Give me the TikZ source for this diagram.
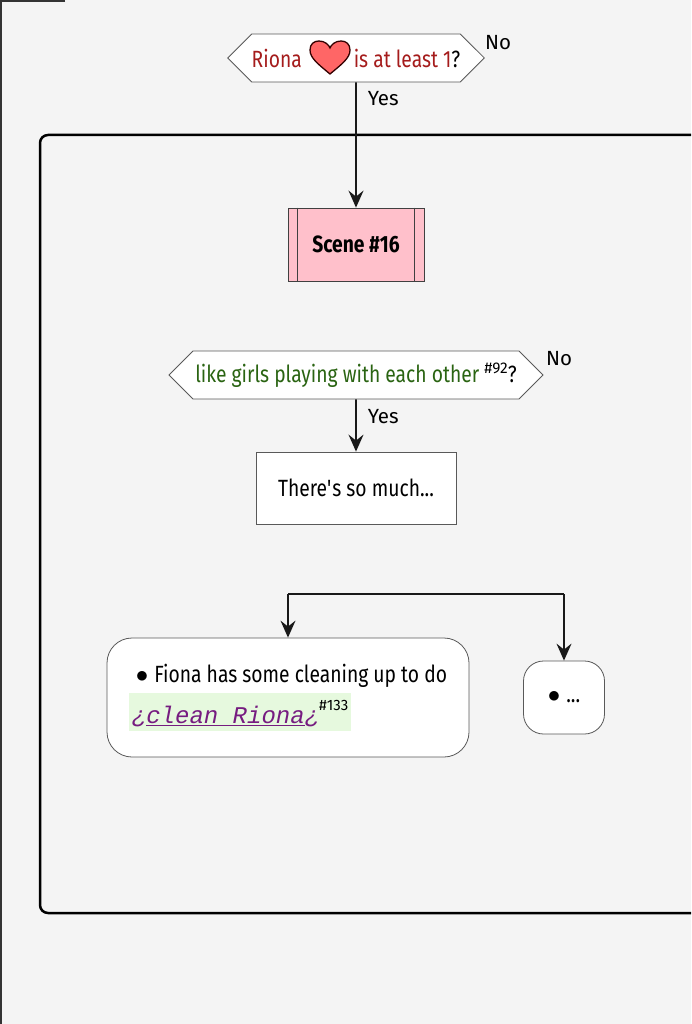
\documentclass[tikz,border=0pt]{standalone}
\usepackage{fontspec}
\setmainfont{Fira Sans}[FakeStretch=0.82]
\newfontfamily\lblfont{Fira Sans}
\setmonofont{Liberation Mono}
\usepackage{xcolor}
\definecolor{mybg}{RGB}{244,244,244}
\definecolor{mypink}{RGB}{255,192,203}
\definecolor{myred}{RGB}{165,28,28}
\definecolor{mygreen}{RGB}{42,100,18}
\definecolor{mypurple}{RGB}{118,28,128}
\definecolor{mylight}{RGB}{230,249,222}
\definecolor{myheart}{RGB}{255,102,102}
\usepackage{tikz}
\usetikzlibrary{positioning}
\usetikzlibrary{arrows.meta}
\usetikzlibrary{shapes,calc}

\begin{document}
\begin{tikzpicture}[x=1pt,y=-1pt,font=\fontsize{23.5}{27}\selectfont,
    lbl/.style={inner sep=0pt, font=\lblfont\fontsize{20.5}{24}\selectfont}]
	\useasboundingbox (0,0) rectangle (691,1024);
	\clip (0,0) rectangle (691,1024);
	\fill[mybg] (0,0) rectangle (691,1024);

	% frames
	\draw[line width=1.5pt, black!80] (65,1) -- (1,1) -- (1,1030);
	\draw[line width=2.5pt, rounded corners=8pt] (40,135) rectangle (760,913);

	\begin{scope}[every node/.style={draw=black!65, fill=white, line width=0.8pt, inner sep=0pt}]
	    \node (Q1) [signal, signal to=west and east, signal pointer angle=90,
	                minimum width=252pt, minimum height=48pt] at (356,58)
	          {{\color{myred}Riona\hspace{52pt}is at least 1}?};
	    \node (S16) [fill=mypink, draw=black!75, minimum width=136pt, minimum height=73pt] at (356,244.5)
	          {\textbf{Scene \#16}};
	    \node (Q2) [signal, signal to=west and east, signal pointer angle=90,
	                minimum width=374pt, minimum height=48pt] at (356,375)
	          {{\color{mygreen}like girls playing with each other} \raisebox{9pt}{\lblfont\fontsize{15.5}{18}\selectfont\#92}?};
	    \node (T) [minimum width=200pt, minimum height=72pt] at (356,488)
	          {There\textquotesingle s so much...};
	    \node (L) [align=left, minimum width=362pt, minimum height=119pt,
	               rounded corners=25pt] at (288,697.5)
	          {\hspace*{7pt}$\bullet$\hspace{6pt}Fiona has some cleaning up to do\\[5pt]
	           \setlength{\fboxsep}{0pt}\colorbox{mylight}{\rule[-8pt]{0pt}{38pt}\hspace{3pt}{\color{mypurple}\fontsize{24}{27}\selectfont\ttfamily\itshape ¿\underline{clean Riona}¿}\raisebox{13pt}{\lblfont\fontsize{15}{18}\selectfont\#133}\hspace{3pt}}};
	    \node (R) [minimum width=81pt, minimum height=73pt, rounded corners=20pt] at (564,697.5)
	          {$\bullet$\hspace{6pt}...};
	\end{scope}

	% heart between the words
	\draw[fill=myheart, draw=black!80!red, line width=1.3pt]
	    (330,74) .. controls (318,64) and (310,58) .. (310,50)
	    .. controls (310,44) and (314,41) .. (319,41)
	    .. controls (325,41) and (329,45) .. (330,48)
	    .. controls (331,45) and (335,41) .. (341,41)
	    .. controls (346,41) and (350,44) .. (350,50)
	    .. controls (350,58) and (342,64) .. (330,74) -- cycle;

	% side bars of the scene box
	\draw[black!75, line width=0.8pt] ($(S16.north west)+(10,0)$) -- ($(S16.south west)+(10,0)$);
	\draw[black!75, line width=0.8pt] ($(S16.north east)+(-10,0)$) -- ($(S16.south east)+(-10,0)$);

	\node[lbl] (N1) at (498,43) {No};
	\node[lbl] (N2) at (559,359) {No};

	\coordinate (FL) at (288,594);
	\coordinate (FR) at (564,594);
	\draw[line width=2.5pt, black!90] (FL) -- (FR);

	\begin{scope}[>={Stealth[length=17pt,width=15pt,inset=6pt]},
	              every edge/.style={draw=black!90, line width=1.6pt}]
    	\path [->] (Q1) edge node[pos=0.13, right=11pt, lbl] {Yes} (S16);
    	\path [->] (Q2) edge node[pos=0.32, right=11pt, lbl] {Yes} (T);
    	\path [->] (FL) edge (L);
    	\path [->] (FR) edge (R);
	\end{scope}
\end{tikzpicture}
\end{document}
